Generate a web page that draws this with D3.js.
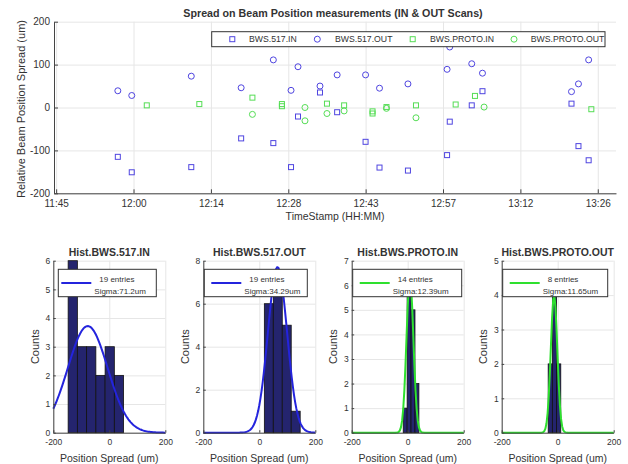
<!DOCTYPE html>
<html>
<head>
<meta charset="utf-8">
<script src="https://cdn.jsdelivr.net/npm/d3@7"></script>
<style>
  body { margin: 0; background: #fff; }
  svg text { font-family: "Liberation Sans", Arial, sans-serif; fill: #333; }
</style>
</head>
<body>
<svg id="chart" width="628" height="464"></svg>
<script>
// ---- scatter data (time of scan, spread in um) ----
var t517 = ["11:56:30","11:59:06","12:10:12","12:19:30","12:25:30","12:28:48","12:30:06","12:34:12","12:37:24","12:42:42",
            "12:45:18","12:50:36","12:57:54","12:58:24","13:02:30","13:04:30","13:21:06","13:22:24","13:24:18"];
var in517  = [-115,-151,-139,-72,-83,-139,-21,35,-11,-80,-140,-147,-111,-33,5,38,9,-90,-123];
var out517 = [39,28,73,46,111,40,95,50,76,76,45,55,89,141,102,80,37,55,111];

var tProtoIn = ["12:01:54","12:11:42","12:21:36","12:27:06","12:27:06","12:35:30","12:38:42","12:44:00","12:44:00",
                "12:46:36","12:52:06","12:59:30","13:03:06","13:24:48"];
var protoIn  = [5,8,23,8,3,9,5,-9,-14,1,5,7,27,-4];

var tProtoOut = ["12:21:36","12:31:24","12:31:24","12:35:30","12:38:42","12:46:36","12:52:06","13:04:48"];
var protoOut  = [-16,0,-31,-14,-8,-2,-24,1];

// ticks of the time axis (minutes of the day) and their labels
var xTicks = [705, 719.43, 733.86, 748.29, 762.71, 777.14, 791.57, 806];
var xTickLabels = ["11:45","12:00","12:14","12:28","12:43","12:57","13:12","13:26"];
var yTicks = [-200,-100,0,100,200];

var seriesNames = ["BWS.517.IN","BWS.517.OUT","BWS.PROTO.IN","BWS.PROTO.OUT"];

// ---- histograms ----
var histTitles = ["Hist.BWS.517.IN","Hist.BWS.517.OUT","Hist.BWS.PROTO.IN","Hist.BWS.PROTO.OUT"];
var histStart  = [-147, 18, -16, -34];
var histWidth  = [33, 32, 14, 15];
var histCounts = [[6,3,3,2,3,2],[6,7,5,1],[1,6,5,2],[2,4,2]];
var histYTicks = [[0,1,2,3,4,5,6],[0,2,4,6,8],[0,1,2,3,4,5,6,7],[0,1,2,3,4,5]];
var fitMean  = [-77, 65, 8, -13];
var fitSigma = [71.2, 34.29, 12.39, 11.65];
var fitPeak  = [3.72, 7.7, 6.3, 4.0];
var histEntries = ["19 entries","19 entries","14 entries","8 entries"];
var histSigma   = ["Sigma:71.2um","Sigma:34.29um","Sigma:12.39um","Sigma:11.65um"];
var histXTicks  = [-200, 0, 200];

function toMin(s){
  var p = s.split(":").map(Number);
  return p[0]*60 + p[1] + p[2]/60;
}
function plain(d){ return String(d); } // keep the ascii minus like matlab

var blue = "#4f45e0", green = "#55dd55";
var svg = d3.select("#chart");

// ================= top scatter =================
var L = 54, R = 616, T = 21.7, B = 193.3;
var x = d3.scaleLinear().domain([704.6, 809.4]).range([L, R]);
var y = d3.scaleLinear().domain([-200, 200]).range([B, T]);

// grid
svg.append("g").attr("transform","translate(0,"+B+")")
  .call(d3.axisBottom(x).tickValues(xTicks).tickSize(-(B-T)).tickFormat(""))
  .call(function(g){ g.select(".domain").remove(); g.selectAll("line").attr("stroke","#e6e6e6"); });
svg.append("g").attr("transform","translate("+L+",0)")
  .call(d3.axisLeft(y).tickValues(yTicks).tickSize(-(R-L)).tickFormat(""))
  .call(function(g){ g.select(".domain").remove(); g.selectAll("line").attr("stroke","#e6e6e6"); });

// points
function squares(times, vals, color){
  svg.append("g").selectAll("rect").data(vals).enter().append("rect")
    .attr("x", function(d,i){ return x(toMin(times[i])) - 2.5; })
    .attr("y", function(d){ return y(d) - 2.5; })
    .attr("width",5).attr("height",5)
    .attr("fill","none").attr("stroke",color).attr("stroke-width",1);
}
function circles(times, vals, color){
  svg.append("g").selectAll("circle").data(vals).enter().append("circle")
    .attr("cx", function(d,i){ return x(toMin(times[i])); })
    .attr("cy", function(d){ return y(d); })
    .attr("r",3)
    .attr("fill","none").attr("stroke",color).attr("stroke-width",1);
}
squares(t517, in517, blue);
circles(t517, out517, blue);
squares(tProtoIn, protoIn, green);
circles(tProtoOut, protoOut, green);

// axes
var xAxis = svg.append("g").attr("transform","translate(0,"+B+")")
  .call(d3.axisBottom(x).tickValues(xTicks).tickFormat(function(d,i){ return xTickLabels[i]; })
        .tickSizeInner(-4).tickSizeOuter(0).tickPadding(7));
var yAxis = svg.append("g").attr("transform","translate("+L+",0)")
  .call(d3.axisLeft(y).tickValues(yTicks).tickFormat(plain).tickSizeInner(-4).tickSizeOuter(0).tickPadding(4));
[xAxis, yAxis].forEach(function(g){
  g.select(".domain").attr("stroke","#444");
  g.selectAll(".tick line").attr("stroke","#444");
  g.selectAll("text").attr("font-size","10px").attr("fill","#3a3a3a").attr("font-family",null);
});

svg.append("text").attr("x",333).attr("y",17).attr("text-anchor","middle")
  .attr("font-size","10.7px").attr("font-weight","bold").attr("fill","#111")
  .text("Spread on Beam Position measurements (IN & OUT Scans)");
svg.append("text").attr("x",335).attr("y",220).attr("text-anchor","middle")
  .attr("font-size","10.5px").text("TimeStamp (HH:MM)");
svg.append("text").attr("transform","translate(24.5,109) rotate(-90)").attr("text-anchor","middle")
  .attr("font-size","11px").text("Relative Beam Position Spread (um)");

// legend
var leg = svg.append("g");
leg.append("rect").attr("x",211.7).attr("y",31.7).attr("width",393.3).attr("height",15)
  .attr("fill","#fff").attr("stroke","#333").attr("stroke-width",1);
var legMarkX = [232.3, 317.3, 412.7, 514];
var legTextX = [249, 335, 430, 530.7];
seriesNames.forEach(function(name, i){
  var c = i < 2 ? blue : green;
  if (i % 2 === 0) {
    leg.append("rect").attr("x",legMarkX[i]-2.5).attr("y",39.2-2.5).attr("width",5).attr("height",5)
      .attr("fill","none").attr("stroke",c);
  } else {
    leg.append("circle").attr("cx",legMarkX[i]).attr("cy",39.2).attr("r",3)
      .attr("fill","none").attr("stroke",c);
  }
  leg.append("text").attr("x",legTextX[i]).attr("y",42.3).attr("font-size","8.7px").text(name);
});

// ================= histograms =================
var hLefts = [53.3, 203.3, 351.7, 501.7];
var hW = 112, hT = 260.7, hB = 432.7;
var legOff = [5, 1, 1, 1], legWid = [98, 103, 109, 105];

histTitles.forEach(function(title, i){
  var l = hLefts[i];
  var c = i < 2 ? "#2424dd" : "#2ee02e";
  var hx = d3.scaleLinear().domain([-200, 200]).range([l, l + hW]);
  var ticksY = histYTicks[i];
  var hy = d3.scaleLinear().domain([0, ticksY[ticksY.length-1]]).range([hB, hT]);
  var g = svg.append("g");

  g.append("g").attr("transform","translate(0,"+hB+")")
    .call(d3.axisBottom(hx).tickValues(histXTicks).tickSize(-(hB-hT)).tickFormat(""))
    .call(function(s){ s.select(".domain").remove(); s.selectAll("line").attr("stroke","#e6e6e6"); });
  g.append("g").attr("transform","translate("+l+",0)")
    .call(d3.axisLeft(hy).tickValues(ticksY).tickSize(-hW).tickFormat(""))
    .call(function(s){ s.select(".domain").remove(); s.selectAll("line").attr("stroke","#e6e6e6"); });

  // bars
  g.append("g").selectAll("rect").data(histCounts[i]).enter().append("rect")
    .attr("x", function(d,j){ return hx(histStart[i] + j*histWidth[i]); })
    .attr("width", function(d,j){ return hx(histStart[i] + (j+1)*histWidth[i]) - hx(histStart[i] + j*histWidth[i]); })
    .attr("y", function(d){ return hy(d); })
    .attr("height", function(d){ return hB - hy(d); })
    .attr("fill","#24246e").attr("stroke","#111").attr("stroke-width",0.8);

  // gaussian fit
  var xs = d3.range(-200, 201, 4);
  var line = d3.line()
    .x(function(v){ return hx(v); })
    .y(function(v){ return hy(fitPeak[i]*Math.exp(-Math.pow(v-fitMean[i],2)/(2*fitSigma[i]*fitSigma[i]))); });
  g.append("path").datum(xs).attr("d",line).attr("fill","none").attr("stroke",c).attr("stroke-width",2);

  // axes
  var ax = g.append("g").attr("transform","translate(0,"+hB+")")
    .call(d3.axisBottom(hx).tickValues(histXTicks).tickFormat(plain).tickSizeInner(-2.5).tickSizeOuter(0).tickPadding(6));
  var ay = g.append("g").attr("transform","translate("+l+",0)")
    .call(d3.axisLeft(hy).tickValues(ticksY).tickFormat(plain).tickSizeInner(-2.5).tickSizeOuter(0).tickPadding(3));
  [ax, ay].forEach(function(s){
    s.select(".domain").attr("stroke","#444");
    s.selectAll(".tick line").attr("stroke","#444");
    s.selectAll("text").attr("font-size","8.5px").attr("fill","#3a3a3a").attr("font-family",null);
  });

  g.append("text").attr("x",l+hW/2).attr("y",256).attr("text-anchor","middle")
    .attr("font-size","10.5px").attr("font-weight","bold").attr("fill","#111").text(title);
  g.append("text").attr("x",l+hW/2).attr("y",462).attr("text-anchor","middle")
    .attr("font-size","10.5px").text("Position Spread (um)");
  g.append("text").attr("transform","translate("+(l-14.5)+","+((hT+hB)/2)+") rotate(-90)")
    .attr("text-anchor","middle").attr("font-size","11px").text("Counts");

  // legend
  g.append("rect").attr("x",l+legOff[i]).attr("y",269.3).attr("width",legWid[i]).attr("height",27.4)
    .attr("fill","#fff").attr("stroke","#333").attr("stroke-width",1);
  g.append("line").attr("x1",l+8).attr("x2",l+38).attr("y1",283).attr("y2",283)
    .attr("stroke",c).attr("stroke-width",2);
  g.append("text").attr("x",l+46).attr("y",282.2).attr("font-size","8px").text(histEntries[i]);
  g.append("text").attr("x",l+41).attr("y",293.5).attr("font-size","8px").text(histSigma[i]);
});
</script>
</body>
</html>
